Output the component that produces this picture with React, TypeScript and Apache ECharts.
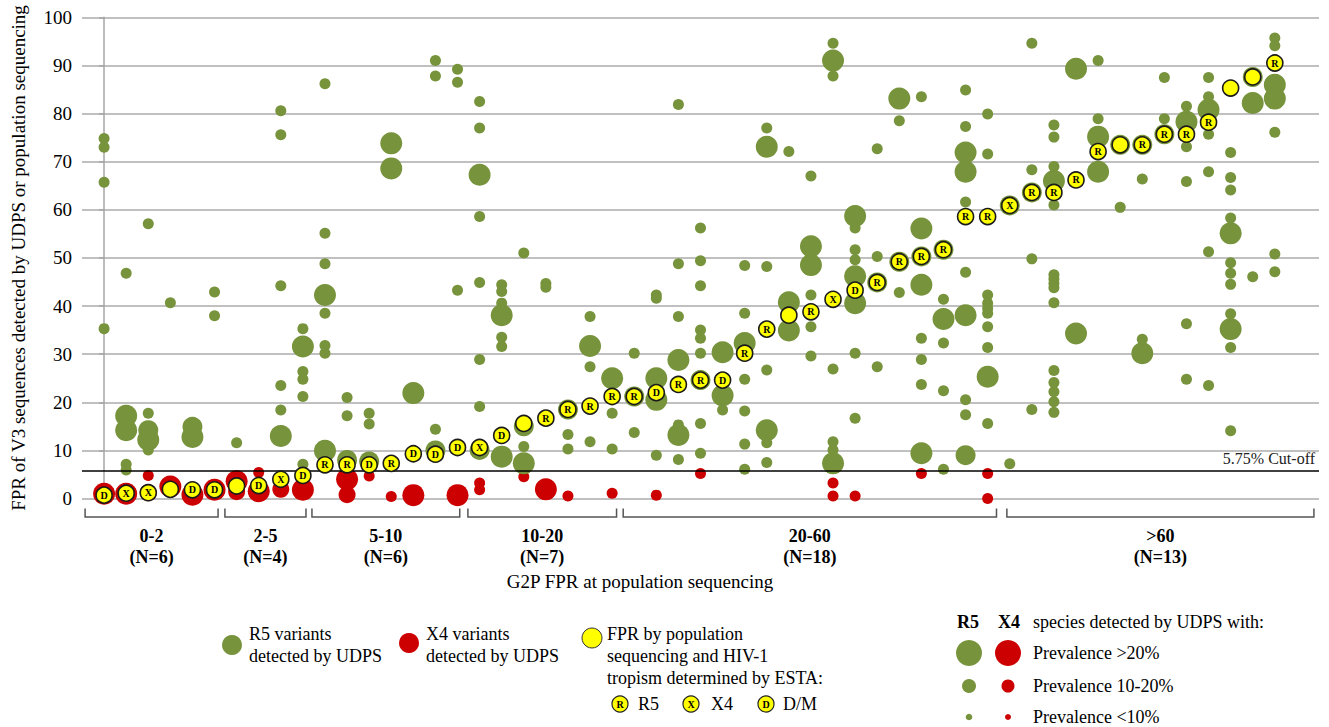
import React, { useEffect, useRef } from "react";
import * as echarts from "echarts";

const FONT = "Liberation Serif";
const GREEN = "#77933C";
const RED = "#CC0000";
const YELLOW = "#FFFF00";

// Patient groups (G2P FPR at population sequencing)
const groupLabels = ["0-2", "2-5", "5-10", "10-20", "20-60", ">60"];
const groupCounts = ["(N=6)", "(N=4)", "(N=6)", "(N=7)", "(N=18)", "(N=13)"];
const groupStart = [-0.86, 5.47, 9.41, 16.47, 23.5, 40.87];
const groupEnd = [5.16, 9.14, 16.1, 23.2, 40.4, 54.77];

// FPR by population sequencing, one per patient (sorted)
const popFPR = [
  0.7, 1.1, 1.2, 1.9, 1.8, 1.8, 2.6, 2.7, 4.0, 4.8,
  7.0, 7.0, 7.0, 7.3, 9.3, 9.2, 10.6, 10.6, 13.1, 15.6,
  16.7, 18.5, 19.2, 21.2, 21.2, 22.0, 23.7, 24.6, 24.6, 30.2,
  35.2, 38.1, 38.8, 41.4, 43.3, 44.9, 49.2, 50.3, 51.7, 58.6,
  58.6, 60.9, 63.6, 63.6, 66.2, 72.1, 73.5, 73.5, 75.7, 75.7,
  78.2, 85.3, 87.6, 90.5,
];
// HIV-1 tropism by ESTA ("" = not determined)
const popTropism = [
  "D", "X", "X", "", "D", "D", "", "D", "X", "D",
  "R", "R", "D", "R", "D", "D", "D", "X", "D", "",
  "R", "R", "R", "R", "R", "D", "R", "R", "D", "R",
  "R", "", "R", "X", "D", "R", "R", "R", "R", "R",
  "R", "X", "R", "R", "R", "R", "", "R", "R", "R",
  "R", "", "", "R",
];

// UDPS R5 species: [patient, FPR]
const r5High = [
  [1, 17.2], [1, 14.2], [2, 12.2], [4, 12.8], [8, 13.0], [9, 31.6], [10, 42.3], [10, 9.9],
  [13, 73.8], [13, 68.6], [14, 21.9], [17, 67.3], [18, 38.1], [18, 8.7], [19, 7.3], [22, 31.7],
  [23, 25.0], [25, 25.0], [25, 20.5], [26, 28.8], [26, 13.2], [28, 30.4], [28, 21.4], [29, 32.3],
  [30, 73.1], [30, 14.2], [31, 40.8], [31, 34.9], [32, 52.4], [32, 48.5], [33, 91.0], [33, 7.3],
  [34, 58.7], [34, 46.2], [34, 40.6], [36, 83.1], [37, 56.1], [37, 44.4], [37, 9.4], [38, 37.3],
  [39, 71.9], [39, 67.9], [39, 38.1], [40, 25.3], [43, 66.0], [44, 89.3], [44, 34.3], [45, 75.2],
  [45, 67.9], [47, 30.2], [49, 78.3], [50, 80.8], [51, 55.1], [51, 35.2], [52, 82.2], [53, 86.0],
  [53, 83.1],
];
const r5Mid = [
  [2, 14.2], [4, 14.9], [11, 8.0], [12, 7.7], [15, 10.0], [17, 10.1], [19, 15.0], [21, 18.5],
  [24, 21.2], [27, 24.6], [35, 44.9], [36, 49.2], [37, 50.3], [38, 51.7], [39, 9.0], [41, 60.9],
  [42, 63.6], [46, 73.5], [47, 73.5], [48, 75.7], [52, 87.6],
];
const r5Low = [
  [0, 74.8], [0, 73.0], [0, 65.7], [0, 35.3], [1, 46.8], [1, 7.1], [1, 5.9], [2, 57.1], [2, 17.7],
  [2, 10.1], [3, 40.7], [5, 42.9], [5, 38.0], [6, 11.6], [8, 80.6], [8, 75.6], [8, 44.2], [8, 23.5],
  [8, 18.4], [9, 35.3], [9, 26.4], [9, 24.8], [9, 21.2], [9, 7.1], [10, 86.2], [10, 55.1],
  [10, 48.8], [10, 38.5], [10, 31.8], [10, 30.2], [11, 21.0], [11, 17.2], [12, 17.7], [12, 15.5],
  [15, 91.0], [15, 87.8], [15, 14.4], [16, 89.2], [16, 86.5], [16, 43.3], [17, 82.5], [17, 77.0],
  [17, 58.6], [17, 44.9], [17, 28.9], [17, 19.1], [18, 44.4], [18, 43.0], [18, 40.6], [18, 33.5],
  [18, 31.6], [19, 51.0], [19, 10.8], [20, 44.7], [20, 43.9], [21, 13.3], [21, 10.3], [22, 37.8],
  [22, 27.4], [22, 11.8], [23, 17.7], [23, 10.3], [24, 30.2], [24, 13.7], [25, 42.3], [25, 41.6],
  [25, 9.0], [26, 81.9], [26, 48.8], [26, 37.8], [26, 15.3], [26, 8.1], [27, 56.2], [27, 49.4],
  [27, 44.2], [27, 35.0], [27, 33.3], [27, 30.2], [27, 15.6], [27, 9.4], [28, 18.4], [29, 48.4],
  [29, 38.5], [29, 24.8], [29, 18.2], [29, 11.3], [29, 6.1], [30, 77.0], [30, 48.2], [30, 26.7],
  [30, 11.6], [30, 7.5], [31, 72.1], [32, 67.0], [32, 42.3], [32, 35.7], [32, 29.6], [33, 94.6],
  [33, 87.8], [33, 26.9], [33, 11.8], [33, 10.1], [34, 56.2], [34, 51.7], [34, 49.6], [34, 30.2],
  [34, 16.7], [35, 72.7], [35, 50.3], [35, 27.4], [36, 78.5], [36, 42.8], [37, 83.5], [37, 33.3],
  [37, 28.9], [37, 23.7], [38, 41.4], [38, 32.3], [38, 22.4], [38, 6.1], [39, 84.9], [39, 77.3],
  [39, 61.6], [39, 47.0], [39, 20.5], [39, 17.4], [40, 79.9], [40, 71.6], [40, 42.3], [40, 40.6],
  [40, 39.5], [40, 38.5], [40, 35.7], [40, 31.4], [40, 15.6], [41, 7.2], [42, 94.6], [42, 68.3],
  [42, 49.8], [42, 18.5], [43, 77.6], [43, 75.1], [43, 69.0], [43, 61.0], [43, 46.5], [43, 45.6],
  [43, 44.7], [43, 43.8], [43, 40.7], [43, 26.6], [43, 24.1], [43, 22.2], [43, 20.1], [43, 17.9],
  [45, 91.0], [45, 78.9], [46, 60.5], [47, 66.4], [47, 33.1], [48, 87.5], [48, 78.9], [49, 81.5],
  [49, 73.1], [49, 65.9], [49, 36.3], [49, 24.8], [50, 87.5], [50, 83.5], [50, 75.7], [50, 67.9],
  [50, 51.3], [50, 23.5], [51, 71.9], [51, 66.7], [51, 64.1], [51, 58.3], [51, 49.0], [51, 46.8],
  [51, 44.5], [51, 38.4], [51, 31.4], [51, 14.1], [52, 46.1], [53, 95.7], [53, 94.1], [53, 76.1],
  [53, 50.8], [53, 47.1],
];

// UDPS X4 species: [patient, FPR]
const x4High = [
  [0, 1.0], [1, 1.0], [3, 2.5], [4, 0.8], [5, 1.8], [6, 3.6], [7, 1.5], [9, 1.8], [11, 4.0],
  [14, 0.7], [16, 0.7], [20, 1.9],
];
const x4Mid = [[2, 1.2], [6, 1.4], [8, 1.9], [11, 0.8]];
const x4Low = [
  [2, 4.8], [7, 5.4], [12, 4.7], [13, 0.4], [17, 3.2], [17, 1.8], [19, 4.5], [21, 0.5], [23, 1.1],
  [25, 0.7], [27, 5.2], [33, 3.2], [33, 0.5], [34, 0.5], [37, 5.2], [40, 5.2], [40, 0.0],
];

const CUTOFF = 5.75;

function txt(x: number, y: number, text: string, extra: any = {}) {
  return {
    type: "text",
    x,
    y,
    silent: true,
    style: {
      text,
      fontFamily: FONT,
      fontSize: 18,
      fill: "#000",
      align: "left",
      verticalAlign: "middle",
      ...extra,
    },
  };
}
function circ(cx: number, cy: number, r: number, fill: string, stroke?: string, lw = 1) {
  return {
    type: "circle",
    silent: true,
    shape: { cx, cy, r },
    style: { fill, stroke: stroke || null, lineWidth: stroke ? lw : 0 },
  };
}
function tropIcon(cx: number, cy: number, letter: string) {
  return [
    circ(cx, cy, 8, YELLOW, "#222", 1.2),
    txt(cx, cy + 0.5, letter, { align: "center", fontSize: 10, fontWeight: "bold" }),
  ];
}

export default function App() {
  const ref = useRef<HTMLDivElement>(null);
  useEffect(() => {
    const chart = echarts.init(ref.current!, null, { renderer: "svg" });
    const scatter = (data: number[][], color: string, size: number) => ({
      type: "scatter",
      data,
      symbol: "circle",
      symbolSize: size,
      silent: true,
      itemStyle: { color, opacity: 1 },
      z: 2,
    });
    const graphics: any[] = [
      {
        type: "text",
        x: 18,
        y: 258,
        rotation: Math.PI / 2,
        silent: true,
        style: {
          text: "FPR of V3 sequences detected by UDPS or population sequencing",
          fontFamily: FONT,
          fontSize: 19,
          fill: "#000",
          align: "center",
          verticalAlign: "middle",
        },
      },
      txt(640, 581, "G2P FPR at population sequencing", { align: "center", fontSize: 19 }),
      // left legend
      circ(232, 645, 10, GREEN),
      txt(249, 634, "R5 variants"),
      txt(249, 656, "detected by UDPS"),
      circ(409, 643, 10, RED),
      txt(426, 634, "X4 variants"),
      txt(426, 656, "detected by UDPS"),
      circ(592, 638, 10, YELLOW, "#333", 1),
      txt(607, 634, "FPR by population"),
      txt(607, 656, "sequencing and HIV-1"),
      txt(607, 678, "tropism determined by ESTA:"),
      ...tropIcon(620, 704, "R"),
      txt(638, 704, "R5"),
      ...tropIcon(691, 704, "X"),
      txt(711, 704, "X4"),
      ...tropIcon(766, 704, "D"),
      txt(783, 704, "D/M"),
      // right legend
      txt(957, 622, "R5", { fontWeight: "bold" }),
      txt(998, 622, "X4", { fontWeight: "bold" }),
      txt(1033, 622, "species detected by UDPS with:"),
      circ(969, 653, 13, GREEN),
      circ(1008, 653, 13, RED),
      txt(1033, 653, "Prevalence >20%"),
      circ(969, 686, 7, GREEN),
      circ(1008, 686, 6.5, RED),
      txt(1033, 686, "Prevalence 10-20%"),
      circ(969, 717, 3.3, GREEN),
      circ(1008, 717, 3, RED),
      txt(1033, 717, "Prevalence <10%"),
    ];

    const option: any = {
      animation: false,
      backgroundColor: "#fff",
      textStyle: { fontFamily: FONT },
      grid: { left: 82, right: 10, top: 17.3, bottom: 228.5 },
      xAxis: {
        type: "value",
        min: -1,
        max: 55,
        show: false,
      },
      yAxis: {
        type: "value",
        min: 0,
        max: 100,
        interval: 10,
        axisLine: { show: true, lineStyle: { color: "#A6A6A6", width: 1.5 } },
        axisTick: { show: true, length: 5, lineStyle: { color: "#A6A6A6", width: 1.5 } },
        splitLine: { show: true, lineStyle: { color: "#ABABAB", width: 1.5 } },
        axisLabel: { fontFamily: FONT, fontSize: 19, color: "#000", margin: 10 },
      },
      graphic: graphics,
      series: [
        scatter(x4High, RED, 22),
        scatter(x4Mid, RED, 17),
        scatter(x4Low, RED, 11),
        scatter(r5High, GREEN, 22),
        scatter(r5Mid, GREEN, 20),
        scatter(r5Low, GREEN, 11),
        {
          type: "scatter",
          data: popFPR.map((v, i) => [i, v, popTropism[i]]),
          encode: { x: 0, y: 1 },
          symbol: "circle",
          symbolSize: 16,
          silent: true,
          z: 5,
          itemStyle: { color: YELLOW, borderColor: "#1a1a1a", borderWidth: 1.6, opacity: 1 },
          label: {
            show: true,
            position: "inside",
            formatter: (p: any) => p.data[2],
            fontFamily: FONT,
            fontWeight: "bold",
            fontSize: 10,
            color: "#000",
          },
          markLine: {
            silent: true,
            symbol: ["none", "none"],
            lineStyle: { color: "#000", width: 1.5, type: "solid" },
            label: {
              show: true,
              position: "insideEndTop",
              formatter: "5.75% Cut-off",
              fontFamily: FONT,
              fontSize: 16,
              color: "#222",
              distance: 4,
            },
            data: [{ yAxis: CUTOFF }],
          },
        },
        {
          type: "custom",
          silent: true,
          clip: false,
          data: groupStart.map((s, i) => [s, groupEnd[i], 0, i]),
          encode: { x: [0, 1], y: 2 },
          renderItem: (params: any, api: any) => {
            const s = api.coord([api.value(0), api.value(2)]);
            const e = api.coord([api.value(1), api.value(2)]);
            const idx = api.value(3);
            const y0 = s[1];
            const cx = (s[0] + e[0]) / 2;
            return {
              type: "group",
              children: [
                {
                  type: "polyline",
                  shape: {
                    points: [
                      [s[0], y0 + 10],
                      [s[0], y0 + 18.5],
                      [e[0], y0 + 18.5],
                      [e[0], y0 + 10],
                    ],
                  },
                  style: { stroke: "#555", lineWidth: 1.5, fill: null },
                },
                {
                  type: "text",
                  x: cx,
                  y: y0 + 37.5,
                  style: {
                    text: groupLabels[idx],
                    fontFamily: FONT,
                    fontSize: 18,
                    fontWeight: "bold",
                    fill: "#000",
                    align: "center",
                    verticalAlign: "middle",
                  },
                },
                {
                  type: "text",
                  x: cx,
                  y: y0 + 58.5,
                  style: {
                    text: groupCounts[idx],
                    fontFamily: FONT,
                    fontSize: 18,
                    fontWeight: "bold",
                    fill: "#000",
                    align: "center",
                    verticalAlign: "middle",
                  },
                },
              ],
            };
          },
        },
      ],
    };
    chart.setOption(option);
    return () => chart.dispose();
  }, []);
  return (
    <div
      ref={ref}
      style={{ position: "absolute", left: 0, top: 0, width: 1329, height: 727 }}
    />
  );
}
